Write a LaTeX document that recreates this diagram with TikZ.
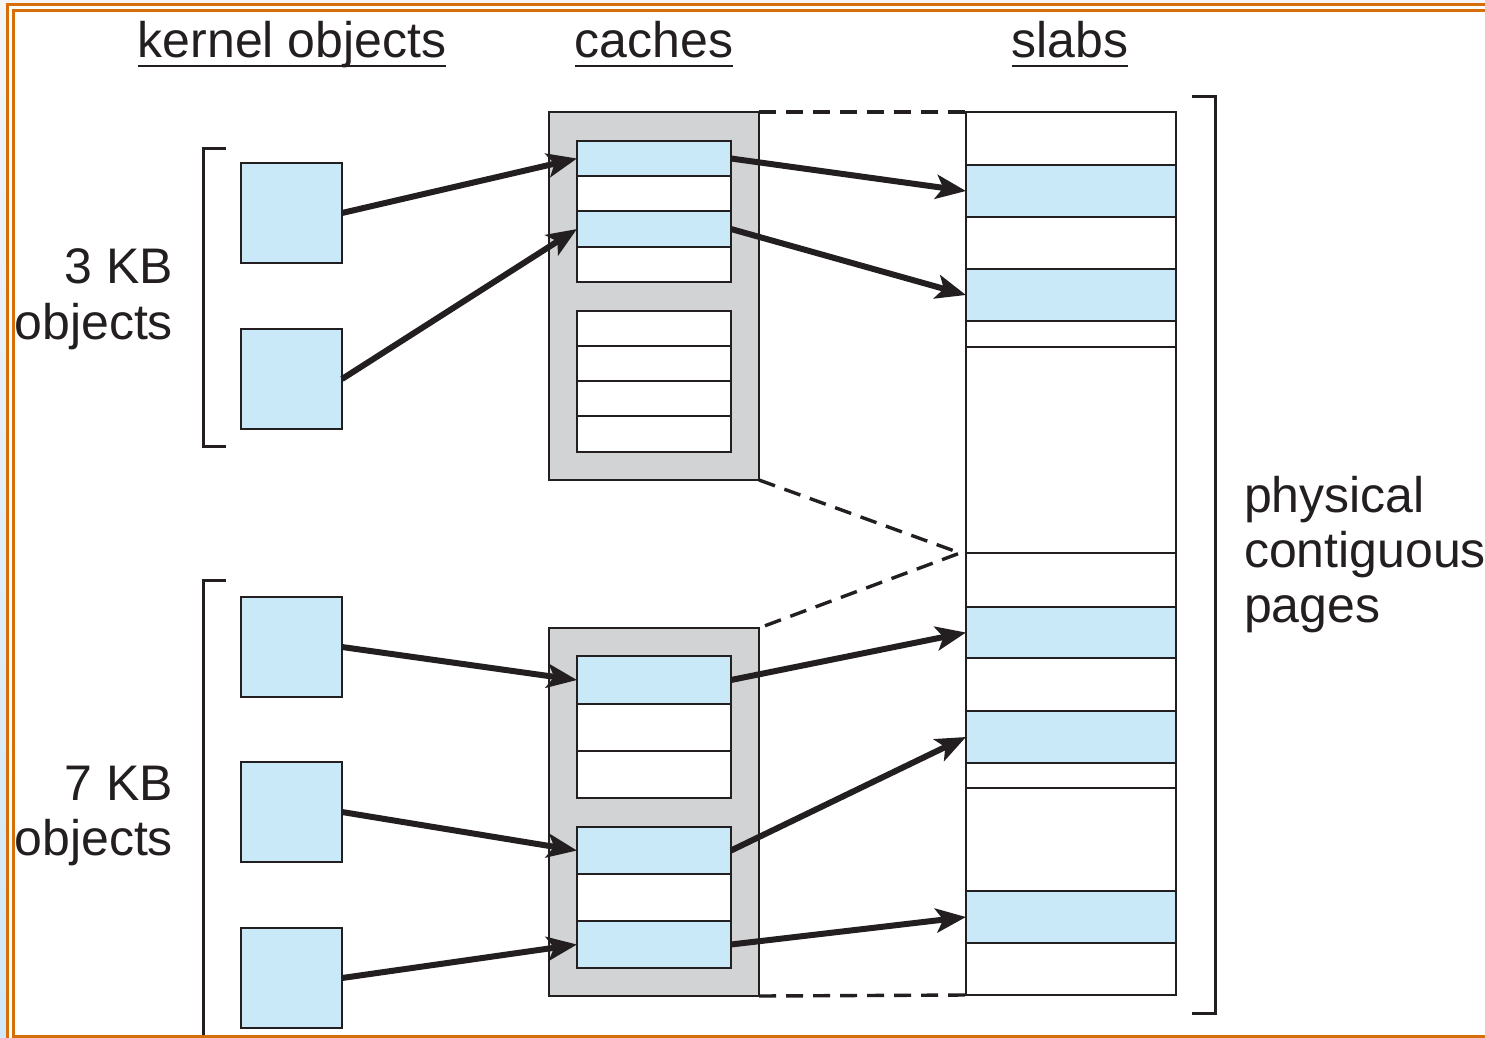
\documentclass[tikz,border=0pt]{standalone}
\usepackage{fontspec}
\setmainfont{Liberation Sans}
\usetikzlibrary{arrows.meta}
\definecolor{kblue}{RGB}{201,232,248}
\definecolor{kgray}{RGB}{209,211,212}
\definecolor{kline}{RGB}{35,31,32}
\definecolor{korange}{RGB}{214,110,10}
\definecolor{kstrip}{RGB}{208,232,248}
\tikzset{
  box/.style={draw=kline, line width=2.9pt, anchor=north west, inner sep=0pt, outer sep=0pt},
  objbox/.style={box, fill=kblue, minimum width=101pt, minimum height=100pt},
  cachebox/.style={box, fill=kgray, minimum width=210pt, minimum height=368pt},
  cellw/.style={box, fill=white, minimum width=154pt},
  cellb/.style={box, fill=kblue, minimum width=154pt},
  roww/.style={box, fill=white, minimum width=210pt},
  rowb/.style={box, fill=kblue, minimum width=210pt},
  link/.style={draw=kline, line width=6pt, -{Stealth[length=30pt,width=24pt,inset=7pt]}},
  dashline/.style={draw=kline, line width=3.4pt, dash pattern=on 17pt off 10pt},
  brack/.style={draw=kline, line width=3pt},
  lbl/.style={inner sep=0pt, outer sep=0pt, font=\fontsize{50}{60}\selectfont, text=kline},
  frame/.style={draw=korange}
}
\begin{document}
\begin{tikzpicture}[x=1pt,y=-1pt]
\useasboundingbox (0,0) rectangle (1485,1038);
\fill[white] (0,0) rectangle (1485,1038);
\fill[gray!8] (0,0) rectangle (1485,3.5);
\shade[top color=gray!8, bottom color=kstrip] (0,3.5) rectangle (6.5,1038);
% frame
\draw[frame, line width=2.8pt] (7.8,1038) -- (7.8,4.8) -- (1485,4.8);
\draw[frame, line width=3.6pt] (13.5,1038) -- (13.5,10.5) -- (1485,10.5);
\draw[frame, line width=3.6pt] (12,1036.5) -- (1485,1036.5);

% headers
\node[lbl, anchor=base] (h1) at (292,58) {kernel objects};
\node[lbl, anchor=base] (h2) at (654,58) {caches};
\node[lbl, anchor=base] (h3) at (1070,58) {slabs};
\foreach \h in {h1,h2,h3}
  \draw[kline, line width=2.6pt] ([yshift=-8pt]\h.base west) -- ([yshift=-8pt]\h.base east);

% kernel objects
\node[objbox] (k1) at (241,163) {};
\node[objbox] (k2) at (241,329) {};
\node[objbox] (k3) at (241,597) {};
\node[objbox] (k4) at (241,762) {};
\node[objbox] (k5) at (241,928) {};

% labels
\node[lbl, anchor=base east] (l1) at (173,283) {3 KB};
\node[lbl, anchor=base east] (l2) at (173,339) {objects};
\node[lbl, anchor=base east] (l3) at (173,800) {7 KB};
\node[lbl, anchor=base east] (l4) at (173,855) {objects};
\node[lbl, anchor=base west] (p1) at (1244,512) {physical};
\node[lbl, anchor=base west] (p2) at (1244,567) {contiguous};
\node[lbl, anchor=base west] (p3) at (1244,622) {pages};

% brackets
\draw[brack] (226,148) -- (203,148) -- (203,446) -- (226,446);
\draw[brack] (226,580) -- (203,580) -- (203,1035);
\draw[brack] (1192,97) -- (1215,97) -- (1215,1013) -- (1192,1013);

% caches
\node[cachebox] (ca) at (549,112) {};
\node[cellb, minimum height=35pt] (c1) at (577,141) {};
\node[cellw, minimum height=35pt] (c2) at (577,176) {};
\node[cellb, minimum height=36pt] (c3) at (577,211) {};
\node[cellw, minimum height=35pt] (c4) at (577,247) {};
\node[cellw, minimum height=35pt] (c5) at (577,311) {};
\node[cellw, minimum height=35pt] (c6) at (577,346) {};
\node[cellw, minimum height=35pt] (c7) at (577,381) {};
\node[cellw, minimum height=36pt] (c8) at (577,416) {};

\node[cachebox] (cb) at (549,628) {};
\node[cellb, minimum height=48pt] (d1) at (577,656) {};
\node[cellw, minimum height=47pt] (d2) at (577,704) {};
\node[cellw, minimum height=47pt] (d3) at (577,751) {};
\node[cellb, minimum height=47pt] (d4) at (577,827) {};
\node[cellw, minimum height=47pt] (d5) at (577,874) {};
\node[cellb, minimum height=47pt] (d6) at (577,921) {};

% slabs
\node[roww, minimum height=53pt] (s1) at (966,112) {};
\node[rowb, minimum height=52pt] (s2) at (966,165) {};
\node[roww, minimum height=52pt] (s3) at (966,217) {};
\node[rowb, minimum height=52pt] (s4) at (966,269) {};
\node[roww, minimum height=26pt] (s5) at (966,321) {};
\node[roww, minimum height=206pt] (s6) at (966,347) {};
\node[roww, minimum height=54pt] (s7) at (966,553) {};
\node[rowb, minimum height=51pt] (s8) at (966,607) {};
\node[roww, minimum height=53pt] (s9) at (966,658) {};
\node[rowb, minimum height=52pt] (s10) at (966,711) {};
\node[roww, minimum height=25pt] (s11) at (966,763) {};
\node[roww, minimum height=103pt] (s12) at (966,788) {};
\node[rowb, minimum height=52pt] (s13) at (966,891) {};
\node[roww, minimum height=52pt] (s14) at (966,943) {};

% dashed
\coordinate (mid) at (960,553);
\draw[dashline] (ca.north east) -- (s1.north west);
\draw[dashline] (cb.south east) -- (s14.south west);
\draw[dashline] (ca.south east) -- (mid) -- (cb.north east);

% arrows
\draw[link] (k1.east) -- (c1.west);
\draw[link] (k2.east) -- (c3.west);
\draw[link] (c1.east) -- (s2.west);
\draw[link] (c3.east) -- (s4.west);
\draw[link] (k3.east) -- (d1.west);
\draw[link] (k4.east) -- (d4.west);
\draw[link] (k5.east) -- (d6.west);
\draw[link] (d1.east) -- (s8.west);
\draw[link] (d4.east) -- (s10.west);
\draw[link] (d6.east) -- (s13.west);
\end{tikzpicture}
\end{document}
